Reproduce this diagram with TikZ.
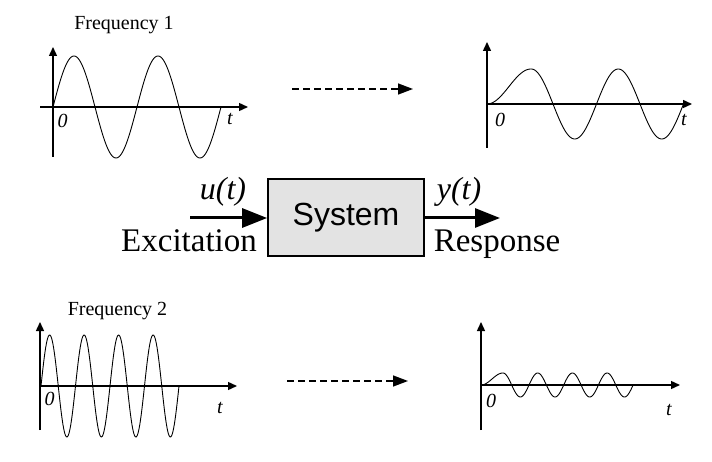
\documentclass[tikz,border=0pt]{standalone}
\usepackage{fontspec}
\setmainfont{Liberation Serif}
\setsansfont{Liberation Sans}
\usepackage{tikz}
\usetikzlibrary{arrows.meta,positioning}

\begin{document}
\begin{tikzpicture}[
  x=1pt, y=-1pt,
  axis/.style      = {line width=1.4pt, -{Triangle[length=9pt, width=8pt]}},
  wave/.style      = {line width=0.9pt, smooth, samples=160},
  sysbox/.style    = {draw, line width=1.8pt, fill=gray!22,
                      minimum width=156pt, minimum height=77pt,
                      font=\sffamily\fontsize{32}{36}\selectfont},
  sigarr/.style    = {line width=3pt, -{Triangle[length=25pt, width=19pt]}},
  dasharr/.style   = {line width=1.4pt, dash pattern=on 7pt off 4pt,
                      -{Triangle[length=15pt, width=11pt]}},
  freqlabel/.style = {anchor=base, font=\fontsize{20}{24}\selectfont},
  ticklabel/.style = {font=\itshape\fontsize{20}{22}\selectfont},
  siglabel/.style  = {anchor=base, font=\fontsize{33}{38}\selectfont},
]
\useasboundingbox (0,0) rectangle (712,462);

%% ── Frequency 1: excitation (top left) ──────────────────────────────────────
\node[freqlabel] (f1) at (124,30) {Frequency 1};
\coordinate (o1)  at (53,107);
\coordinate (xl1) at (40,107);
\coordinate (xr1) at (248,107);
\coordinate (yb1) at (53,157);
\coordinate (yt1) at (53,47);
\draw[axis] (xl1) -- (xr1);
\draw[axis] (yb1) -- (yt1);
\draw[wave, domain=0:168] plot ({53+\x}, {107-51*sin(4.2857*\x)});
\node[ticklabel] (z1) at (62.5,121) {0};
\node[ticklabel] (t1) at (230,119) {t};

%% ── Frequency 1: response (top right) ───────────────────────────────────────
\coordinate (o2)  at (487,104);
\coordinate (xr2) at (692,104);
\coordinate (yb2) at (487,148);
\coordinate (yt2) at (487,42);
\draw[axis] (o2) -- (xr2);
\draw[axis] (yb2) -- (yt2);
\draw[wave, domain=0:44] plot ({487+\x}, {104-35*(1-cos(4.0909*\x))/2});
\draw[wave, domain=531:683] plot (\x, {104-35*sin(4.1379*(\x-509.5))});
\node[ticklabel] (z2) at (500,120) {0};
\node[ticklabel] (t2) at (684,120) {t};

\coordinate (d1a) at (292,89);
\coordinate (d1b) at (413,89);
\draw[dasharr] (d1a) -- (d1b);

%% ── System block ────────────────────────────────────────────────────────────
\node[sysbox] (sys) at (346,217.5) {System};
\coordinate (uin)  at (190,218);
\coordinate (yout) at (500,218);
\draw[sigarr] (uin) -- (uin -| sys.west);
\draw[sigarr] (yout -| sys.east) -- (yout);
\node[siglabel, font=\itshape\fontsize{32}{36}\selectfont] (ut) at (223,200) {u(t)};
\node[siglabel, font=\itshape\fontsize{32}{36}\selectfont] (yt) at (459,200) {y(t)};
\node[siglabel] (exc) at (189,252) {Excitation};
\node[siglabel] (resp) at (497,252) {Response};

%% ── Frequency 2: excitation (bottom left) ───────────────────────────────────
\node[freqlabel] (f2) at (117.5,316) {Frequency 2};
\coordinate (o3)  at (40,386);
\coordinate (xr3) at (237,386);
\coordinate (yb3) at (40,430);
\coordinate (yt3) at (40,322);
\draw[axis] (o3) -- (xr3);
\draw[axis] (yb3) -- (yt3);
\draw[wave, domain=0:138, samples=240] plot ({41+\x}, {386-51*sin(10.4348*\x)});
\node[ticklabel] (z3) at (49.5,399) {0};
\node[ticklabel] (t3) at (220,408) {t};

%% ── Frequency 2: response (bottom right) ────────────────────────────────────
\coordinate (o4)  at (481,385);
\coordinate (xr4) at (680,385);
\coordinate (yb4) at (481,430);
\coordinate (yt4) at (481,322);
\draw[axis] (o4) -- (xr4);
\draw[axis] (yb4) -- (yt4);
\draw[wave, domain=0:22] plot ({481+\x}, {385-12*(1-cos(8.1818*\x))/2});
\draw[wave, domain=503:633, samples=200] plot (\x, {385-12*cos(10.3746*(\x-503))});
\node[ticklabel] (z4) at (491,401) {0};
\node[ticklabel] (t4) at (669,410) {t};

\coordinate (d2a) at (287,381);
\coordinate (d2b) at (408,381);
\draw[dasharr] (d2a) -- (d2b);

\end{tikzpicture}
\end{document}
